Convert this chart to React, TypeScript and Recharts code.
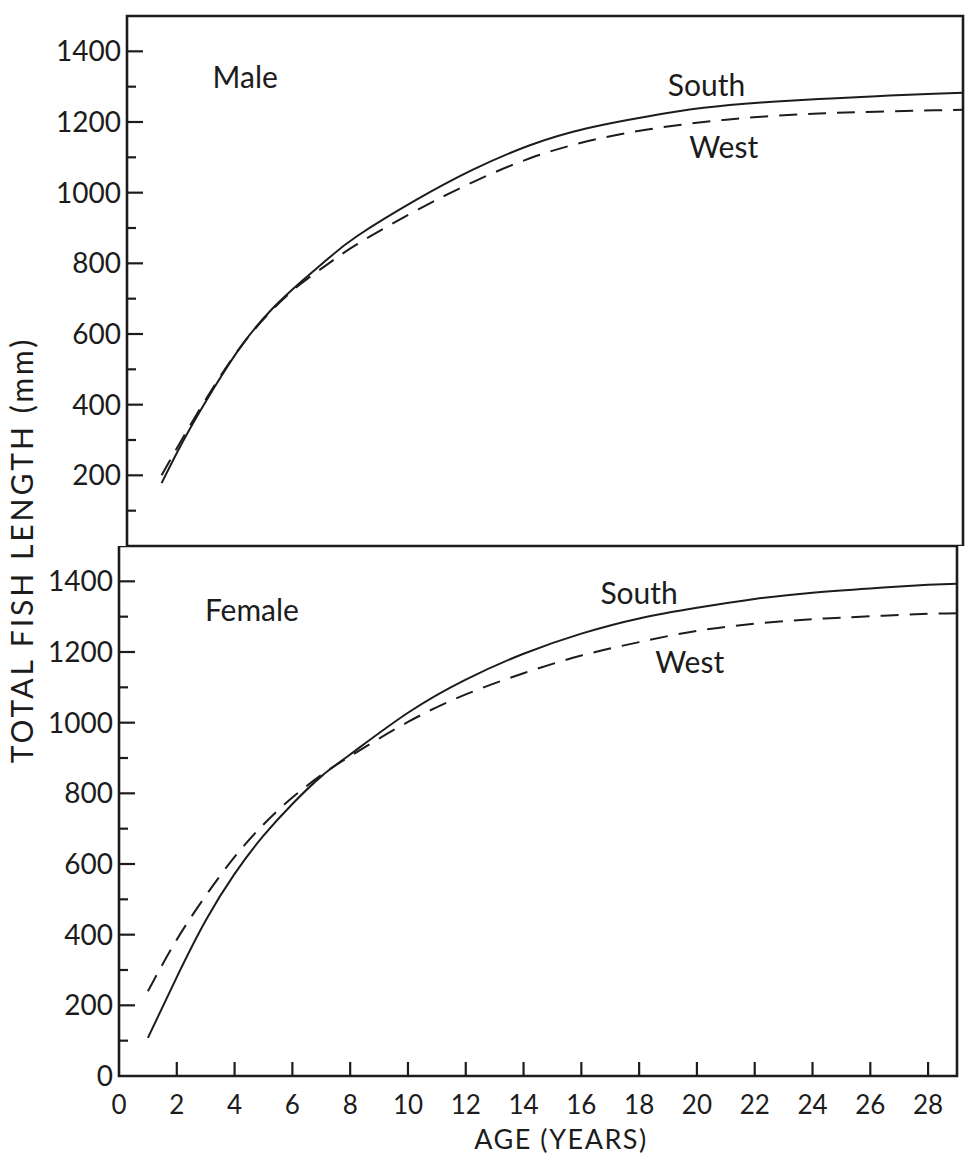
import {
  LineChart,
  Line,
  XAxis,
  YAxis,
  ReferenceArea,
  ReferenceDot,
} from "recharts";

const INK = "#1c1c1c";
const FONT = "Lato, 'Noto Sans', sans-serif";

// ages (years) the curves were read at
const maleAges = [1.2, 2, 3, 4, 5, 6, 7, 8, 10, 12, 14, 16, 18, 20, 22, 24, 26, 28, 29];
const maleSouth = [178, 305, 445, 570, 668, 745, 815, 878, 978, 1065, 1135, 1183, 1215, 1240, 1255, 1265, 1273, 1280, 1283];
const maleWest = [200, 315, 450, 570, 665, 740, 800, 855, 948, 1030, 1098, 1146, 1178, 1200, 1215, 1224, 1229, 1233, 1235];

const femaleAges = [1, 2, 3, 4, 5, 6, 7, 8, 10, 12, 14, 16, 18, 20, 22, 24, 26, 28, 29];
const femaleSouth = [108, 280, 440, 572, 680, 770, 848, 910, 1028, 1122, 1195, 1252, 1295, 1325, 1350, 1368, 1380, 1390, 1393];
const femaleWest = [240, 386, 510, 620, 712, 788, 852, 905, 1002, 1080, 1140, 1190, 1228, 1260, 1280, 1293, 1301, 1308, 1310];

const ageTicks = [0, 2, 4, 6, 8, 10, 12, 14, 16, 18, 20, 22, 24, 26, 28];
const topLengthTicks = [100, 200, 300, 400, 500, 600, 700, 800, 900, 1000, 1100, 1200, 1300, 1400];
const bottomLengthTicks = [0, ...topLengthTicks];

const maleData = maleAges.map((age, i) => ({ age, south: maleSouth[i], west: maleWest[i] }));
const femaleData = femaleAges.map((age, i) => ({ age, south: femaleSouth[i], west: femaleWest[i] }));

const YTick = (props: any) => {
  const { x, y, payload } = props;
  const v = payload.value as number;
  const major = v % 200 === 0;
  return (
    <g>
      {v > 0 && (
        <line x1={x} x2={x + (major ? 16 : 9)} y1={y} y2={y} stroke={INK} strokeWidth={2.2} />
      )}
      {major && (
        <text x={x - 6} y={y} dy="0.36em" textAnchor="end" fontSize={28} fontFamily={FONT} fill={INK}>
          {v}
        </text>
      )}
    </g>
  );
};

const XTickBottom = (props: any) => {
  const { x, y, payload } = props;
  const v = payload.value as number;
  return (
    <g>
      {v > 0 && <line x1={x} x2={x} y1={y} y2={y - 14} stroke={INK} strokeWidth={2.2} />}
      <text x={x} y={y + 29} dy="0.36em" textAnchor="middle" fontSize={26} fontFamily={FONT} fill={INK}>
        {v}
      </text>
    </g>
  );
};

const XTickTop = (props: any) => {
  const { x, y, payload } = props;
  if (payload.value === 0) return <g />;
  return <line x1={x} x2={x} y1={y} y2={y + 13} stroke={INK} strokeWidth={2.2} />;
};

const label = (value: string, size = 30) => ({
  value,
  position: "center" as const,
  fontSize: size,
  fontFamily: FONT,
  fill: INK,
});

export default function App() {
  return (
    <div style={{ position: "absolute", left: 0, top: 0, width: 965, height: 1159, background: "#fff" }}>
      {/* Male */}
      <div style={{ position: "absolute", left: 0, top: 0 }}>
        <LineChart width={965} height={546} data={maleData} margin={{ top: 16, right: 2, bottom: 0, left: 0 }}>
          <XAxis type="number" dataKey="age" domain={[0, 29]} ticks={ageTicks} hide />
          <YAxis
            type="number"
            domain={[0, 1500]}
            ticks={topLengthTicks}
            width={127}
            axisLine={false}
            tickLine={false}
            tickSize={0}
            tickMargin={0}
            tick={<YTick />}
            interval={0}
          />
          <ReferenceArea x1={0} x2={29} y1={0} y2={1500} fill="none" stroke={INK} strokeWidth={2.6} />
          <Line type="natural" dataKey="south" stroke={INK} strokeWidth={2} dot={false} isAnimationActive={false} />
          <Line
            type="natural"
            dataKey="west"
            stroke={INK}
            strokeWidth={2}
            strokeDasharray="18 11"
            dot={false}
            isAnimationActive={false}
          />
          <ReferenceDot x={4.1} y={1325} r={1} fill="none" stroke="none" label={label("Male")} />
          <ReferenceDot x={20.1} y={1305} r={1} fill="none" stroke="none" label={label("South")} />
          <ReferenceDot x={20.7} y={1127} r={1} fill="none" stroke="none" label={label("West")} />
        </LineChart>
      </div>

      {/* Female */}
      <div style={{ position: "absolute", left: 0, top: 546 }}>
        <LineChart width={965} height={613} data={femaleData} margin={{ top: 0, right: 8, bottom: 0, left: 0 }}>
          <XAxis
            type="number"
            dataKey="age"
            domain={[0, 29]}
            ticks={ageTicks}
            interval={0}
            height={83}
            axisLine={false}
            tickLine={false}
            tickSize={0}
            tickMargin={0}
            tick={<XTickBottom />}
            label={{
              value: "AGE (YEARS)",
              position: "insideBottom",
              offset: 10,
              dx: 23,
              fontSize: 27,
              letterSpacing: 1.5,
              fontFamily: FONT,
              fill: INK,
            }}
          />
          <XAxis
            xAxisId="top"
            orientation="top"
            type="number"
            dataKey="age"
            domain={[0, 29]}
            ticks={ageTicks}
            interval={0}
            height={0}
            axisLine={false}
            tickLine={false}
            tickSize={0}
            tickMargin={0}
            tick={<XTickTop />}
          />
          <YAxis
            type="number"
            domain={[0, 1500]}
            ticks={bottomLengthTicks}
            width={119}
            axisLine={false}
            tickLine={false}
            tickSize={0}
            tickMargin={0}
            tick={<YTick />}
            interval={0}
          />
          <ReferenceArea x1={0} x2={29} y1={0} y2={1500} fill="none" stroke={INK} strokeWidth={2.6} />
          <Line type="natural" dataKey="south" stroke={INK} strokeWidth={2} dot={false} isAnimationActive={false} />
          <Line
            type="natural"
            dataKey="west"
            stroke={INK}
            strokeWidth={2}
            strokeDasharray="18 11"
            dot={false}
            isAnimationActive={false}
          />
          <ReferenceDot x={4.6} y={1319} r={1} fill="none" stroke="none" label={label("Female")} />
          <ReferenceDot x={18.0} y={1367} r={1} fill="none" stroke="none" label={label("South")} />
          <ReferenceDot x={19.75} y={1172} r={1} fill="none" stroke="none" label={label("West")} />
        </LineChart>
      </div>

      <div
        style={{
          position: "absolute",
          left: 21,
          top: 550,
          transform: "translate(-50%, -50%) rotate(-90deg)",
          whiteSpace: "nowrap",
          fontFamily: FONT,
          fontSize: 30,
          letterSpacing: 3,
          color: INK,
        }}
      >
        TOTAL FISH LENGTH (mm)
      </div>
    </div>
  );
}
